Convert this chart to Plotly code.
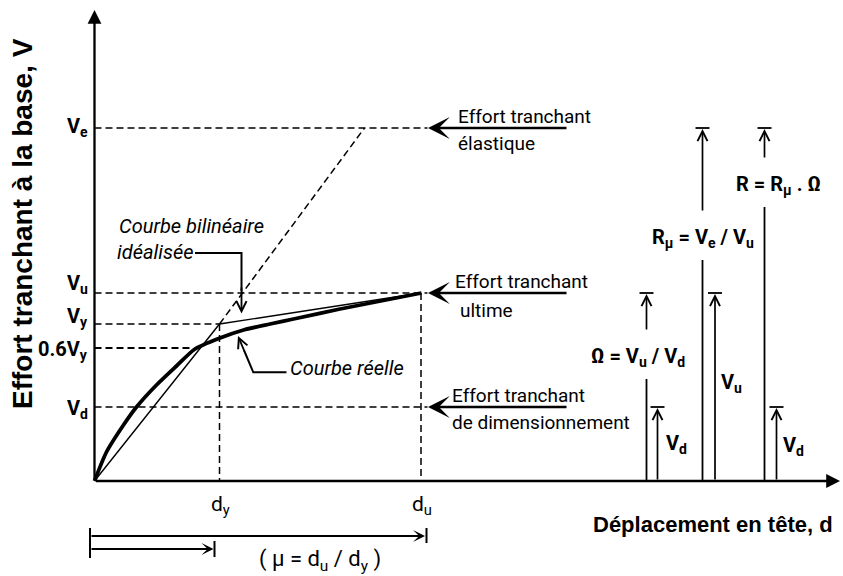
import plotly.graph_objects as go

# ---------------------------------------------------------------
# Pushover capacity diagram (units: px measured from the axes corner)
# ---------------------------------------------------------------
V_LABELS = ["V<sub>e</sub>", "V<sub>u</sub>", "V<sub>y</sub>", "0.6V<sub>y</sub>", "V<sub>d</sub>"]
V_LEVELS = [353, 188, 157, 133, 74]          # Ve, Vu, Vy, 0.6Vy, Vd

D_LABELS = ["d<sub>y</sub>", "d<sub>u</sub>"]
D_LEVELS = [125, 326.5]                      # dy, du

# real capacity curve (courbe réelle)
CURVE_D = [0, 12, 29, 42, 62, 82, 100.5, 125.5, 149, 175.5, 199, 245.5, 327]
CURVE_V = [0, 29, 56, 74, 96, 115, 132, 143, 151, 157, 162, 172, 188]

# displacement where the elastic branch reaches Ve
ELASTIC_D = 270

# force-reduction columns on the right
RATIO_LABELS = ["Ω = V<sub>u</sub> / V<sub>d</sub>",
                "R<sub>μ</sub> = V<sub>e</sub> / V<sub>u</sub>",
                "R = R<sub>μ</sub> . Ω"]
SIDE_LABELS = ["V<sub>d</sub>", "V<sub>u</sub>", "V<sub>d</sub>"]

VE, VU, VY, V06, VD = V_LEVELS
DY, DU = D_LEVELS
RATIO_TOP = [VU, VE, VE]
RATIO_SIDE = [VD, VU, VD]

# ---------------------------------------------------------------
NARROW = "Roboto, Liberation Sans, Arial, sans-serif"
WIDE = "Liberation Sans, Arial, Helvetica, sans-serif"
INK = "black"
DASH = "7px,4px"

fig = go.Figure()


def seg(xs, ys, width=1.5, dash=None):
    fig.add_trace(go.Scatter(x=xs, y=ys, mode="lines", hoverinfo="skip",
                             line=dict(color=INK, width=width, dash=dash)))


annotations = []


def arrow(xh, yh, xt, yt, head=3, width=2.0, size=1.0):
    annotations.append(dict(x=xh, y=yh, ax=xt, ay=yt, xref="x", yref="y",
                            axref="x", ayref="y", text="", showarrow=True,
                            arrowhead=head, arrowwidth=width, arrowsize=size,
                            arrowcolor=INK, standoff=0, startstandoff=0))


def label(x, y, text, size=19, family=NARROW, xanchor="center", yanchor="middle",
          angle=0):
    annotations.append(dict(x=x, y=y, xref="x", yref="y", text=text, showarrow=False,
                            xanchor=xanchor, yanchor=yanchor, textangle=angle,
                            font=dict(family=family, size=size, color=INK)))


# ---- dashed reference lines ----
seg([0, 333], [VE, VE], dash=DASH)
seg([0, 333], [VU, VU], dash=DASH)
seg([0, DY], [VY, VY], dash=DASH)
seg([0, 99], [V06, V06], width=2.2, dash=DASH)
seg([0, 333], [VD, VD], dash=DASH)
seg([DY, DY], [VY, 0], dash=DASH)
seg([DU, DU], [VU, 0], dash=DASH)
seg([DY, ELASTIC_D], [VY, VE], dash=DASH)

# ---- idealised bilinear curve ----
seg([0, DY, DU], [0, VY, VU], width=1.4)

# ---- real curve ----
fig.add_trace(go.Scatter(x=CURVE_D, y=CURVE_V, mode="lines", hoverinfo="skip",
                         line=dict(color=INK, width=3.8, shape="spline", smoothing=0.7)))

# ---- axes with arrowheads ----
arrow(0, 471, 0, 0, head=2, width=2.3, size=1.2)
arrow(745.5, 0, 0, 0, head=2, width=2.3, size=1.2)

# ---- y tick labels ----
label_shift = [1.5, 9, 7, -2, -2]
for txt, lvl, sh in zip(V_LABELS, V_LEVELS, label_shift):
    label(-4.5, lvl + sh, "<b>" + txt + "</b>", size=20, xanchor="right")

# ---- x tick labels ----
for txt, d in zip(D_LABELS, D_LEVELS):
    label(d + 1, -24, txt, size=21)

# ---- annotations pointing at the force levels ----
for lvl in (VE, VU, VD):
    arrow(333.5, lvl, 473.5, lvl, head=3, width=2.6, size=1.4)
label(361.5, 365, "Effort tranchant", xanchor="left")
label(361.5, 338, "élastique", xanchor="left")
label(358.5, 200, "Effort tranchant", xanchor="left")
label(363.5, 171, "ultime", xanchor="left")
label(355.5, 86, "Effort tranchant", xanchor="left")
label(355.5, 59, "de dimensionnement", xanchor="left")

# ---- curve call-outs ----
label(22.5, 255, "<i>Courbe bilinéaire</i>", size=20, xanchor="left")
label(20.5, 229, "<i>idéalisée</i>", size=20, xanchor="left")
seg([100.5, 147, 147], [228, 228, 190], width=2.0)
arrow(147, 167.5, 147, 195, head=5, width=1.8, size=1.1)

label(193.5, 113, "<i>Courbe réelle</i>", size=20, xanchor="left")
seg([192, 158.8, 149.6], [108.7, 108.7, 130.5], width=2.0)
arrow(143.5, 145, 150.5, 128.4, head=5, width=1.8, size=1.1)

# ---- reduction-factor columns ----
col_x = [552, 608, 670]
side_x = [563, 620.5, 682]
text_x = [543.5, 608, 684]
text_y = [124, 243, 296]
side_text = [(581.5, 37), (636.5, 98), (698.5, 35)]
for i in range(3):
    x, top, ty = col_x[i], RATIO_TOP[i], text_y[i]
    seg([x, x], [0, ty - 22], width=1.8)
    arrow(x, top - 1, x, ty + 26, head=5, width=1.7, size=1.15)
    seg([x - 7, x + 7], [top, top], width=1.8)
    label(text_x[i], ty, "<b>" + RATIO_LABELS[i] + "</b>", size=20)
    sx, stop = side_x[i], RATIO_SIDE[i]
    arrow(sx, stop - 1, sx, 0, head=5, width=1.7, size=1.15)
    seg([sx - 7, sx + 7], [stop, stop], width=1.8)
    label(side_text[i][0], side_text[i][1], "<b>" + SIDE_LABELS[i] + "</b>", size=20)

# ---- ductility dimension lines ----
arrow(DU + 4, -55, -4.5, -55, head=3, width=2.0, size=1.0)
seg([DU + 5.5, DU + 5.5], [-47, -62], width=2.0)
seg([-4.5, -4.5], [-47, -77], width=2.0)
arrow(DY - 6, -68, -4.5, -68, head=3, width=2.0, size=1.0)
seg([DY - 5, DY - 5], [-60, -76], width=2.0)
label(225.5, -79, "( μ = d<sub>u</sub> / d<sub>y</sub> )", size=22)

# ---- axis titles ----
label(618, -43, "<b>Déplacement en tête, d</b>", size=22, family=WIDE)
label(-72.5, 257, "<b>Effort tranchant à la base, V</b>", size=28, family=WIDE, angle=-90)

fig.update_layout(
    width=843, height=576, autosize=False,
    margin=dict(l=0, r=0, t=0, b=0, pad=0),
    paper_bgcolor="white", plot_bgcolor="white",
    showlegend=False,
    xaxis=dict(range=[-94.5, 748.5], visible=False, fixedrange=True),
    yaxis=dict(range=[-95, 481], visible=False, fixedrange=True),
    annotations=annotations,
)

fig.write_html("out.html", config={"displayModeBar": False})
